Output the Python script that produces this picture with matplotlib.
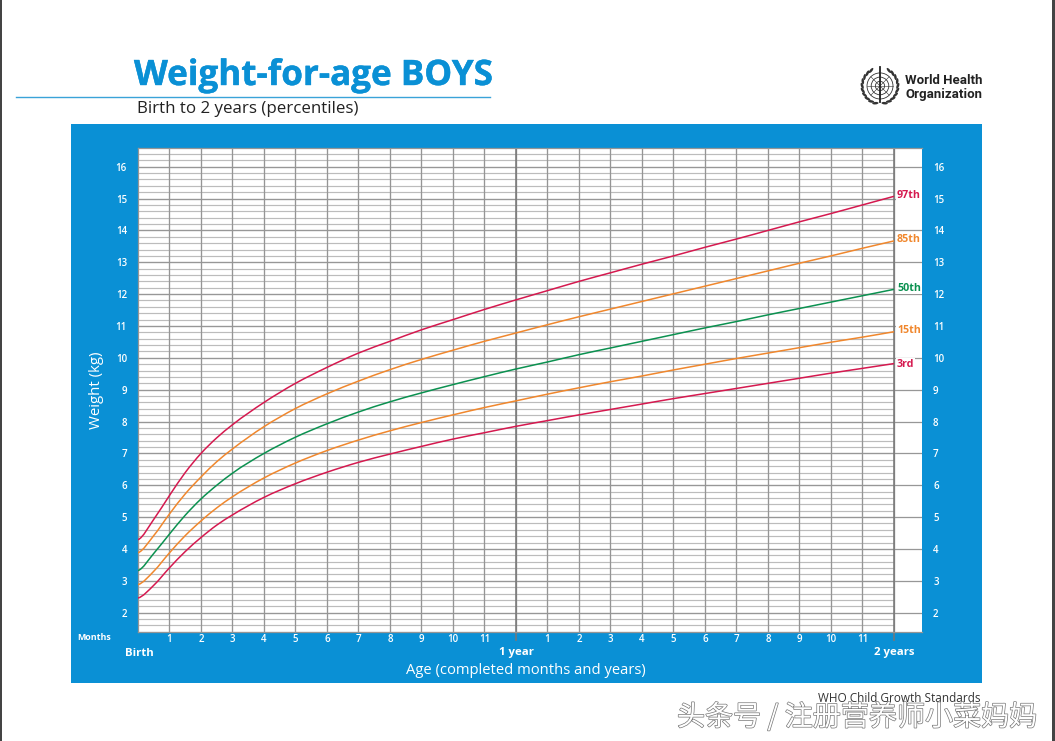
import matplotlib
matplotlib.use('Agg')
import matplotlib.pyplot as plt
import matplotlib.patches as mpatches
import matplotlib.patheffects as pe
from matplotlib.path import Path
import numpy as np

W, H = 1055, 741
BLUE = '#0a90d5'
RED = '#d5194f'
ORANGE = '#f0872d'
GREEN = '#0b9150'

# ages in months (half months early on, the curves bend fast there)
ages = [0, 0.5, 1, 1.5, 2, 2.5, 3, 4, 5, 6, 7, 8, 9, 10, 11, 12,
        13, 14, 15, 16, 17, 18, 19, 20, 21, 22, 23, 24]
p3 = [2.46, 2.86, 3.41, 3.92, 4.36, 4.75, 5.07, 5.62, 6.05, 6.41, 6.72, 6.98, 7.22, 7.45, 7.65, 7.85,
      8.03, 8.21, 8.38, 8.55, 8.72, 8.88, 9.04, 9.2, 9.36, 9.52, 9.67, 9.82]
p15 = [2.88, 3.3, 3.88, 4.42, 4.88, 5.29, 5.64, 6.23, 6.7, 7.09, 7.42, 7.71, 7.97, 8.21, 8.44, 8.65,
       8.86, 9.06, 9.25, 9.43, 9.62, 9.80, 9.98, 10.15, 10.32, 10.49, 10.65, 10.82]
p50 = [3.32, 3.86, 4.47, 5.06, 5.57, 6.0, 6.38, 7.0, 7.51, 7.93, 8.30, 8.62, 8.90, 9.16, 9.41, 9.65,
       9.87, 10.10, 10.31, 10.52, 10.73, 10.94, 11.14, 11.35, 11.55, 11.75, 11.95, 12.15]
p85 = [3.88, 4.42, 5.1, 5.73, 6.26, 6.74, 7.14, 7.84, 8.41, 8.87, 9.27, 9.63, 9.95, 10.24, 10.52, 10.78,
       11.04, 11.29, 11.53, 11.77, 12.01, 12.25, 12.49, 12.73, 12.97, 13.2, 13.44, 13.67]
p97 = [4.29, 4.93, 5.68, 6.4, 7.0, 7.49, 7.9, 8.6, 9.2, 9.7, 10.15, 10.52, 10.88, 11.2, 11.52, 11.82,
       12.11, 12.4, 12.67, 12.94, 13.2, 13.47, 13.73, 14.0, 14.27, 14.53, 14.8, 15.07]

curves = [(p97, '97th', RED, 0.6), (p85, '85th', ORANGE, 0.9), (p50, '50th', GREEN, 0.9),
          (p15, '15th', ORANGE, 0.9), (p3, '3rd', RED, -0.8)]

kg_ticks = list(range(2, 17))
minor_kg = np.arange(1.4, 16.5, 0.2)
month_ticks = list(range(0, 25))
month_labels = ['', '1', '2', '3', '4', '5', '6', '7', '8', '9', '10', '11', '',
                '1', '2', '3', '4', '5', '6', '7', '8', '9', '10', '11', '']

plt.rcParams['font.family'] = ['Open Sans', 'DejaVu Sans']
fig = plt.figure(figsize=(W / 100, H / 100), dpi=100, facecolor='white')


def box(x0, y0, x1, y1):
    # pixel box (top-left origin) -> figure fractions
    return [x0 / W, 1 - y1 / H, (x1 - x0) / W, (y1 - y0) / H]


def ftext(x, y, s, **kw):
    kw.setdefault('va', 'center')
    return fig.text(x / W, 1 - y / H, s, **kw)


def smooth_path(x, y):
    # bezier through the read values, flat start as in the chart
    x = np.asarray(x, float)
    y = np.asarray(y, float)
    m = np.gradient(y, x)
    m[0] = 0.35 * (y[1] - y[0]) / (x[1] - x[0])
    verts = [(x[0], y[0])]
    codes = [Path.MOVETO]
    for i in range(len(x) - 1):
        d = (x[i + 1] - x[i]) / 3
        verts += [(x[i] + d, y[i] + m[i] * d), (x[i + 1] - d, y[i + 1] - m[i + 1] * d), (x[i + 1], y[i + 1])]
        codes += [Path.CURVE4] * 3
    return Path(verts, codes)


# page edges, panel, title rule (behind the axes)
for r, c in [((0, 0, 2, H), '#444444'), ((1052, 0, 1055, H), '#444444'), ((71, 124, 982, 683), BLUE)]:
    b = box(*r)
    fig.add_artist(mpatches.Rectangle(b[:2], b[2], b[3], transform=fig.transFigure, fc=c, ec='none', zorder=-1))
fig.add_artist(plt.Line2D([16 / W, 490 / W], [1 - 96.5 / H] * 2, color='#3aa3d8', lw=1.0))

ftext(134, 76, 'Weight-for-age BOYS', color=BLUE, fontsize=25.2, fontweight='bold',
      path_effects=[pe.withStroke(linewidth=0.3, foreground=BLUE)])
ftext(137, 109, 'Birth to 2 years (percentiles)', color='#222222', fontsize=12.2)
ftext(981, 698, 'WHO Child Growth Standards', color='#333333', fontsize=8.5, ha='right')

# main chart
ax = fig.add_axes(box(138, 148, 922, 632), facecolor='white')
ax.set_xlim(0, 24.889)
ax.set_ylim(1.394, 16.587)

ax.hlines(minor_kg, 0, 24, color='#bcbcbc', lw=0.85, zorder=1)
ax.hlines(kg_ticks, 0, 24.889, color='#979797', lw=0.9, zorder=1.1)
ax.vlines(month_ticks[1:], 1.394, 16.587, color='#959595', lw=0.95, zorder=1.2)
ax.vlines([12, 24], 1.394, 16.587, color='#777777', lw=1.1, zorder=1.3)
ax.vlines([12, 24], 1.1, 1.394, color='#777777', lw=1.1, clip_on=False, zorder=1.3)

for vals, name, col, dy in curves:
    ax.add_patch(mpatches.PathPatch(smooth_path(ages, vals), fc='none', ec=col, lw=1.1, zorder=3))
    ax.annotate(name, xy=(24, vals[-1]), xytext=(2.2, dy), textcoords='offset points',
                color=col, fontsize=7.7, fontweight='bold', va='center', ha='left', zorder=4,
                bbox=dict(fc='white', ec='none', pad=0.6))

ax.set_yticks(kg_ticks)
ax.set_xticks(month_ticks)
ax.set_xticklabels(month_labels)
ax.tick_params(axis='y', length=0, labelleft=True, labelright=True, pad=8,
               labelcolor='white', labelsize=7)
ax.tick_params(axis='x', length=0, pad=1.5, labelcolor='white', labelsize=7)
for lab in ax.get_xticklabels() + ax.get_yticklabels():
    lab.set_fontweight('semibold')
for tick in ax.yaxis.get_major_ticks():
    tick.label2.set_fontweight('semibold')
ax.spines['right'].set_visible(False)
for s in ('left', 'bottom', 'top'):
    ax.spines[s].set_color('#959595')
    ax.spines[s].set_linewidth(0.9)

ftext(94, 638, 'Months', color='white', fontsize=6.4, fontweight='bold', ha='center')
ftext(139, 653, 'Birth', color='white', fontsize=8.2, fontweight='bold', ha='center')
ftext(516.5, 653, '1 year', color='white', fontsize=8.2, fontweight='bold', ha='center')
ftext(894.5, 653, '2 years', color='white', fontsize=8.2, fontweight='bold', ha='center')
ftext(526, 671, 'Age (completed months and years)', color='white', fontsize=10.6, ha='center')
ftext(97, 390, 'Weight (kg)', color='white', fontsize=10.8, rotation=90, ha='center')

# WHO emblem
logo = fig.add_axes(box(858, 66, 902, 108))
logo.set_xlim(-1.05, 1.05)
logo.set_ylim(-1, 1)
logo.axis('off')
for r in (0.62, 0.42, 0.22):
    logo.add_patch(mpatches.Circle((0, 0.05), r, fc='none', ec='#333333', lw=0.6))
for a in (0, 45, 90, 135):
    t = np.radians(a)
    logo.plot([-0.62 * np.cos(t), 0.62 * np.cos(t)], [0.05 - 0.62 * np.sin(t), 0.05 + 0.62 * np.sin(t)],
              color='#333333', lw=0.4)
logo.plot([0, 0], [-0.7, 0.95], color='#222222', lw=1.3)
# laurel leaves
for deg in (-75, -60, -45, -30, -15, 0, 15, 30, 45, 60):
    t = np.radians(deg)
    for side in (-1, 1):
        logo.add_patch(mpatches.Ellipse((side * 0.85 * np.cos(t), 0.05 + 0.85 * np.sin(t)), 0.3, 0.12,
                                        angle=side * (deg + 70), fc='#333333', ec='none'))

who_font = ['Roboto', 'DejaVu Sans']
ftext(905, 81, 'World Health', color='#222222', fontsize=9.5, fontweight='bold', family=who_font)
ftext(905, 94.5, 'Organization', color='#222222', fontsize=9.5, fontweight='bold', family=who_font)

# watermark
ftext(677, 717.5, '头条号 / 注册营养师小菜妈妈', color='white', fontsize=20.2,
      family=['Noto Sans CJK SC', 'DejaVu Sans'],
      path_effects=[pe.withStroke(linewidth=1.0, foreground='#777777')])

fig.savefig('out.png', dpi=100)
